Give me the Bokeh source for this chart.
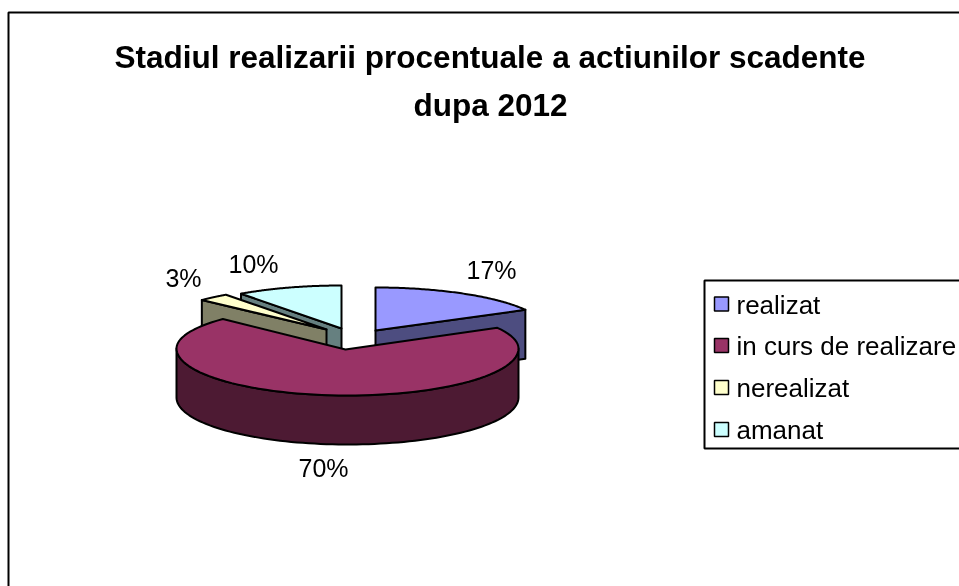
import numpy as np
from bokeh.embed import file_html
from bokeh.resources import INLINE
from bokeh.plotting import figure
from bokeh.models import Range1d
from bokeh.core.properties import value

title_lines = ["Stadiul realizarii procentuale a actiunilor scadente", "dupa 2012"]
categories = ["realizat", "in curs de realizare", "nerealizat", "amanat"]
percent = [17, 70, 3, 10]
top_colors = ["#9999FF", "#993366", "#FFFFCC", "#CCFFFF"]
side_colors = ["#4D4D80", "#4D1A33", "#808066", "#668080"]

W, H = 959, 586
FONT = value("Liberation Sans")

# layout of the pie, in page pixels
RX, RY_BACK, RY_FRONT, DEPTH = 171.0, 43.0, 47.0, 49.0
centres = [(375, 330), (347, 348), (326, 329), (341, 328)]
label_at = [(491, 269), (323, 467), (183, 277), (253, 263)]

p = figure(width=W, height=H, output_backend="svg", toolbar_location=None,
           x_range=Range1d(0, W), y_range=Range1d(H, 0), min_border=0,
           outline_line_color=None, background_fill_color="white")
p.axis.visible = False
p.grid.visible = False
p.xaxis.visible = False
p.yaxis.visible = False
p.styles = {"position": "fixed", "left": "0px", "top": "0px"}


def rim(cx, cy, a0, a1, dy=0.0, n=90):
    t = np.radians(np.linspace(a0, a1, n))
    c = np.cos(t)
    ry = np.where(c > 0, RY_BACK, RY_FRONT)
    return cx + RX * np.sin(t), cy + dy - ry * c


edges = np.cumsum([0] + percent) * 3.6
LW = 2.0


def poly(x, y, color):
    p.patch(list(x), list(y), fill_color=color, line_color="black", line_width=LW, line_join="round")


def back_slice(i, wall_angle):
    cx, cy = centres[i]
    a0, a1 = edges[i], edges[i + 1]
    ox, oy = rim(cx, cy, wall_angle, wall_angle, n=1)
    poly([cx, ox[0], ox[0], cx], [cy, oy[0], oy[0] + DEPTH, cy + DEPTH], side_colors[i])
    ax, ay = rim(cx, cy, a0, a1)
    poly(np.r_[cx, ax], np.r_[cy, ay], top_colors[i])


# chart border runs off the page at right and bottom
p.line([8, 8, W + 10], [H + 10, 12, 12], line_color="black", line_width=2)

# back slices first, the large one hides their lower parts
back_slice(3, edges[3])
back_slice(0, edges[1])
back_slice(2, edges[2])

# large slice: front wall, then top
cx, cy = centres[1]
wx, wy = rim(cx, cy, 90, 270)
bx, by = rim(cx, cy, 90, 270, dy=DEPTH)
poly(np.r_[wx, bx[::-1]], np.r_[wy, by[::-1]], side_colors[1])
ax, ay = rim(cx, cy, edges[1], edges[2])
poly(np.r_[cx - 2, ax], np.r_[cy + 1, ay], top_colors[1])

# percent labels
p.text([q[0] for q in label_at], [q[1] for q in label_at], text=[f"{v}%" for v in percent],
       text_font=FONT, text_font_size="25px", text_align="center", text_baseline="middle",
       text_color="black")

# title
p.text([489.5, 490], [56, 104], text=title_lines, text_font=FONT, text_font_size="31.5px",
       text_font_style="bold", text_align="center", text_baseline="middle", text_color="black")

# legend
p.line([W + 10, 704, 704, W + 10], [280, 280, 448, 448], line_color="black", line_width=2)
key_y = [303.5, 345, 387, 429]
p.quad(left=[714] * 4, right=[728] * 4, top=[y - 7 for y in key_y], bottom=[y + 7 for y in key_y],
       fill_color=top_colors, line_color="black", line_width=1.5)
p.text([736] * 4, [y + 0.5 for y in key_y], text=categories, text_font=FONT, text_font_size="26px",
       text_align="left", text_baseline="middle", text_color="black")

open("out.html", "w").write(file_html(p, INLINE))
